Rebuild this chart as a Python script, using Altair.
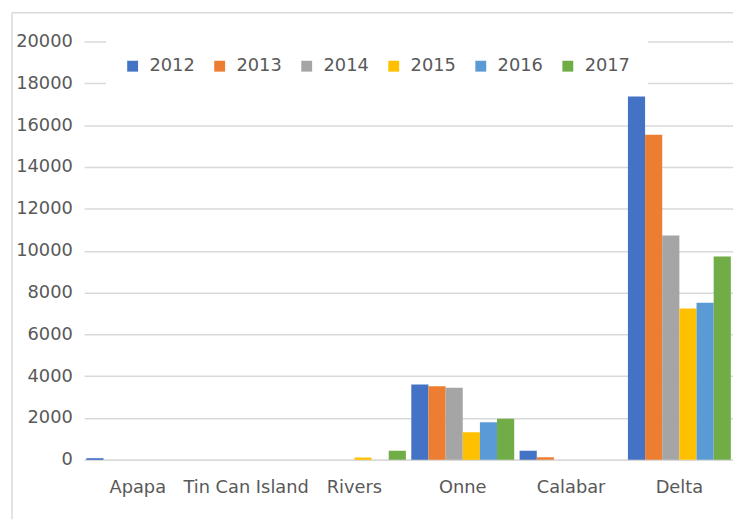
import altair as alt
import pandas as pd

ports = ["Apapa", "Tin Can Island", "Rivers", "Onne", "Calabar", "Delta"]
years = ["2012", "2013", "2014", "2015", "2016", "2017"]
colors = ["#4472C4", "#ED7D31", "#A5A5A5", "#FFC000", "#5B9BD5", "#70AD47"]

# values per year, in port order
v2012 = [80, 0, 0, 3600, 440, 17370]
v2013 = [0, 0, 0, 3520, 130, 15540]
v2014 = [0, 0, 0, 3450, 0, 10730]
v2015 = [0, 0, 110, 1320, 0, 7230]
v2016 = [0, 0, 0, 1800, 0, 7510]
v2017 = [0, 0, 440, 1960, 0, 9720]

series = [v2012, v2013, v2014, v2015, v2016, v2017]
rows = []
for y, vals in zip(years, series):
    for p, v in zip(ports, vals):
        rows.append({"port": p, "year": y, "value": v})
df = pd.DataFrame(rows)

FONT = "DejaVu Sans"
GREY = "#595959"
GRID = "#D9D9D9"

bars = alt.Chart(df).mark_bar().encode(
    x=alt.X("port:N", sort=ports, title=None,
            scale=alt.Scale(paddingInner=0.05, paddingOuter=0.02),
            axis=alt.Axis(labelAngle=0, ticks=False, domain=True, domainColor=GRID,
                          domainWidth=1.5, labelPadding=19, labelLimit=300, grid=False)),
    xOffset=alt.XOffset("year:N", sort=years),
    y=alt.Y("value:Q", title=None,
            scale=alt.Scale(domain=[0, 20000], nice=False),
            axis=alt.Axis(values=list(range(0, 20001, 2000)), format="d", ticks=False,
                          domain=False, labelPadding=12, gridColor=GRID, gridWidth=1.5)),
    color=alt.Color("year:N", sort=years,
                    scale=alt.Scale(domain=years, range=colors),
                    legend=alt.Legend(title=None, orient="none", direction="horizontal",
                                      legendX=22, legendY=-2, padding=18,
                                      fillColor="white", symbolType="square",
                                      symbolSize=121, symbolStrokeWidth=0,
                                      labelOffset=8, columnPadding=16,
                                      labelFont=FONT, labelFontSize=18, labelColor=GREY)),
)

top_border = alt.Chart().mark_rule(color=GRID, strokeWidth=1.5).encode(
    x=alt.value(-73), x2=alt.value(656), y=alt.value(-29))
left_border = alt.Chart().mark_rule(color=GRID, strokeWidth=1.5).encode(
    x=alt.value(-73), y=alt.value(-29), y2=alt.value(483))

chart = alt.layer(top_border, left_border, bars).properties(
    width=656, height=423,
    autosize=alt.AutoSizeParams(type="none"),
    padding={"left": 77, "top": 31, "right": 0, "bottom": 60},
).configure_view(stroke=None).configure_axis(
    labelFont=FONT, labelFontSize=18, labelColor=GREY
)

chart.save("out.html", embed_options={"renderer": "svg", "actions": False})
